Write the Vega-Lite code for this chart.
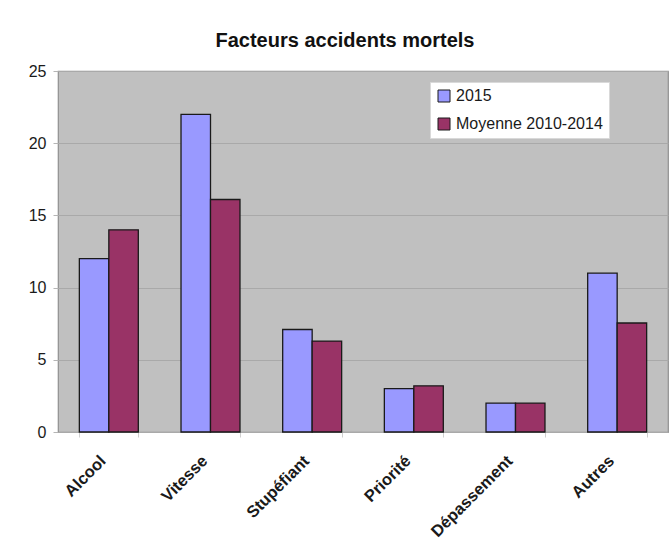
{
  "$schema": "https://vega.github.io/schema/vega-lite/v6.json",
  "autosize": "none",
  "width": 610,
  "height": 361,
  "padding": {"left": 58, "top": 71, "right": 1, "bottom": 114},
  "background": "white",
  "title": {
    "text": "Facteurs accidents mortels",
    "font": "Liberation Sans",
    "fontSize": 20,
    "fontWeight": "bold",
    "color": "#111111",
    "anchor": "middle",
    "dx": -18,
    "offset": 12
  },
  "data": {
    "values": [
      {"facteur": "Alcool", "serie": "2015", "valeur": 12},
      {"facteur": "Alcool", "serie": "Moyenne 2010-2014", "valeur": 14},
      {"facteur": "Vitesse", "serie": "2015", "valeur": 22},
      {"facteur": "Vitesse", "serie": "Moyenne 2010-2014", "valeur": 16.1},
      {"facteur": "Stupéfiant", "serie": "2015", "valeur": 7.1},
      {"facteur": "Stupéfiant", "serie": "Moyenne 2010-2014", "valeur": 6.3},
      {"facteur": "Priorité", "serie": "2015", "valeur": 3},
      {"facteur": "Priorité", "serie": "Moyenne 2010-2014", "valeur": 3.2},
      {"facteur": "Dépassement", "serie": "2015", "valeur": 2},
      {"facteur": "Dépassement", "serie": "Moyenne 2010-2014", "valeur": 2},
      {"facteur": "Autres", "serie": "2015", "valeur": 11},
      {"facteur": "Autres", "serie": "Moyenne 2010-2014", "valeur": 7.55}
    ]
  },
  "mark": {"type": "bar", "stroke": "#1a1a1a", "strokeWidth": 1.3},
  "encoding": {
    "x": {
      "field": "facteur",
      "type": "nominal",
      "sort": null,
      "scale": {"paddingInner": 0.42, "paddingOuter": 0.21},
      "axis": {
        "title": null,
        "labelAngle": -45,
        "labelAlign": "right",
        "labelBaseline": "middle",
        "labelFont": "Liberation Sans",
        "labelFontSize": 16.5,
        "labelFontWeight": "bold",
        "labelColor": "#1a1a1a",
        "labelOffset": -6,
        "labelPadding": 21,
        "domain": false,
        "ticks": true,
        "tickBand": "extent",
        "tickSize": 5,
        "tickColor": "#cfcfcf",
        "grid": false
      }
    },
    "xOffset": {"field": "serie", "type": "nominal", "scale": {"paddingInner": 0, "paddingOuter": 0}},
    "y": {
      "field": "valeur",
      "type": "quantitative",
      "scale": {"domain": [0, 25], "nice": false},
      "axis": {
        "title": null,
        "values": [0, 5, 10, 15, 20, 25],
        "labelFont": "Liberation Sans",
        "labelFontSize": 16,
        "labelColor": "#1a1a1a",
        "labelPadding": 7,
        "tickSize": 5,
        "tickColor": "#b5b5b5",
        "domain": false,
        "grid": true,
        "gridColor": "#a9a9a9",
        "gridWidth": 1.2
      }
    },
    "fill": {
      "field": "serie",
      "type": "nominal",
      "scale": {"domain": ["2015", "Moyenne 2010-2014"], "range": ["#9999FF", "#993366"]},
      "legend": {
        "title": null,
        "orient": "none",
        "legendX": 372,
        "legendY": 11,
        "fillColor": "white",
        "strokeColor": "#d9d9d9",
        "padding": 6,
        "rowPadding": 12,
        "symbolType": "square",
        "symbolSize": 144,
        "symbolStrokeColor": "#1a1a1a",
        "symbolStrokeWidth": 1,
        "labelFont": "Liberation Sans",
        "labelFontSize": 16,
        "labelColor": "#1a1a1a",
        "labelOffset": 4
      }
    }
  },
  "config": {
    "view": {"fill": "#c0c0c0", "stroke": "#8f8f8f", "strokeWidth": 1.2}
  }
}
